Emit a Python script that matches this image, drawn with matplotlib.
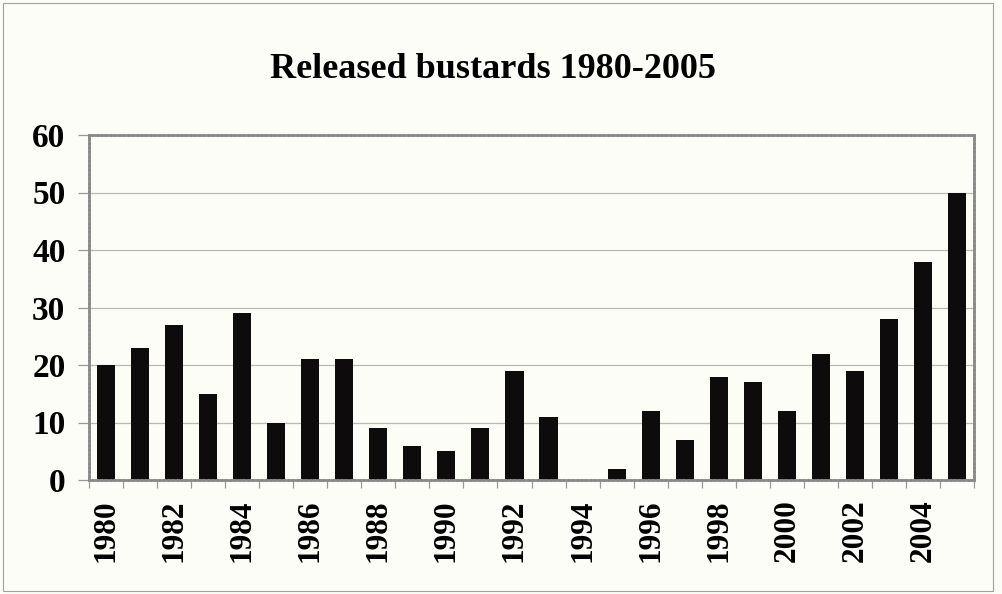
import matplotlib
matplotlib.use("Agg")
import matplotlib.pyplot as plt
from matplotlib.patches import Rectangle
import numpy as np

years = list(range(1980, 2006))
released = [20, 23, 27, 15, 29, 10, 21, 21, 9, 6, 5, 9, 19, 11, 0, 2,
            12, 7, 18, 17, 12, 22, 19, 28, 38, 50]
y_ticks = [0, 10, 20, 30, 40, 50, 60]
title = "Released bustards 1980-2005"

bg = "#fdfdf7"
serif = ["Liberation Serif", "DejaVu Serif"]

fig = plt.figure(figsize=(10.02, 5.94), dpi=100, facecolor=bg)
ax = fig.add_axes([89 / 1002, 1 - 480 / 594, (974 - 89) / 1002, (480 - 135) / 594])
ax.set_facecolor(bg)

x = np.arange(len(years))
ax.bar(x, released, width=0.53, color="#0d0b0b", zorder=3)

ax.set_xlim(-0.5, len(years) - 0.5)
ax.set_ylim(0, 60)

# horizontal gridlines
ax.set_yticks(y_ticks)
ax.set_yticklabels([str(v) for v in y_ticks], fontfamily=serif,
                   fontweight="bold", fontsize=24)
ax.yaxis.grid(True, color="#b8b8b4", linewidth=0.9, zorder=0)
ax.tick_params(axis="y", direction="out", length=8, width=0.9,
               color="#999999", pad=9)

# tick marks between categories, labels every second year
ax.set_xticks(np.arange(len(years) + 1) - 0.5)
ax.set_xticklabels([])
ax.tick_params(axis="x", which="major", direction="out", length=6,
               width=0.9, color="#999999")
label_pos = [i for i, yr in enumerate(years) if yr % 2 == 0]
ax.set_xticks(label_pos, minor=True)
ax.set_xticklabels([str(years[i]) for i in label_pos], minor=True,
                   rotation=90, fontfamily=serif, fontweight="bold",
                   fontsize=22.5)
ax.tick_params(axis="x", which="minor", length=0, pad=14)

for side in ax.spines.values():
    side.set_color("#8a8a8a")
    side.set_linewidth(2.0)
    side.set_linestyle((0, (1, 0.6)))
    side.set_zorder(4)

fig.text(493 / 1002, 1 - 70 / 594, title, ha="center", va="center",
         fontfamily=serif, fontweight="bold", fontsize=26)

# outer frame of the chart area
fig.patches.append(Rectangle((3 / 1002, 3 / 594), 990 / 1002, 588 / 594,
                             transform=fig.transFigure, fill=False,
                             edgecolor="#a0a0a0", linewidth=0.8))

fig.savefig("out.png", dpi=100, facecolor=bg)
